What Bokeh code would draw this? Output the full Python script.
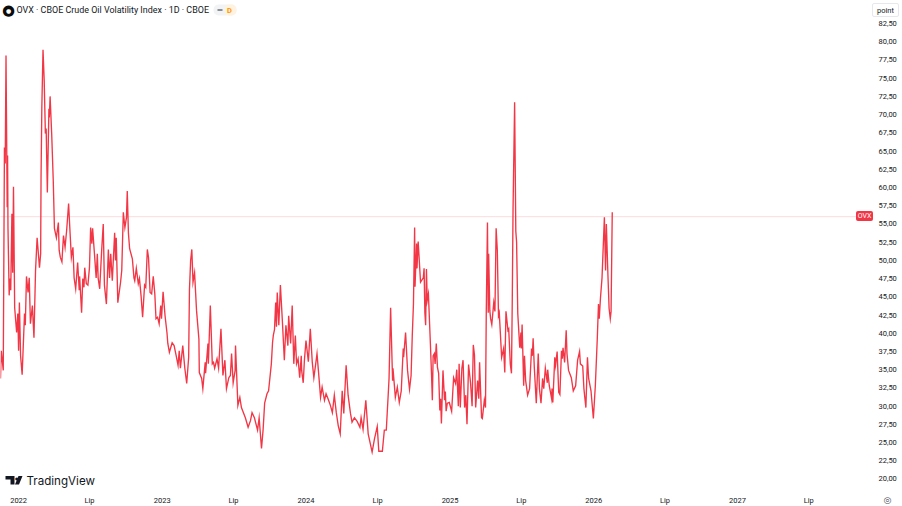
from bokeh.plotting import figure
from bokeh.models import BoxAnnotation, Div, FixedTicker, Label, PolyAnnotation, Range1d
from bokeh.embed import file_html
from bokeh.resources import INLINE

# x = calendar days since 2021-11-17
days_2022 = [0,2,7,10,12,14,17,18,19,22,24,26,29,31,33,36,41,44,46,48,51,55,61,63,66,70,73,76,81,85,89,93,97,99,102,103,105,108,111,114,116,119,123,124,126,130,134,137,142,147,149,152,156,160,164,168,173,176,180,184,187,191,196,200,201,206,209,212,214,218,222,226,229,232,234,238,243,246,248,252,257,261,264,269,274,277,280,284,290,292,294,298,305,308,312,316,320,322,325,328,335,339,341,345,350,353,357,361,366,369,373,376,380,384,388,392,395,399,403,407,409]
ovx_2022 = [33.8,37.6,34.9,65.5,63.3,78.1,57.3,64.4,54.5,45.2,47.5,45.9,56.4,48.3,60.1,43.5,40.1,42.7,37.6,44.2,36.9,34.3,42.7,41.1,47.8,45.6,47.6,41.3,43.8,39.4,48.6,53.1,50.4,49,50.9,61.4,71,78.9,74.7,67.4,68.1,59.3,70.8,69.6,72.5,67.4,61,54.4,53.1,55.2,51.4,50.4,49.8,53.4,51.8,54.1,57.8,54.5,50.4,51.8,47.6,46.1,49.7,45.9,47.8,42.8,47.5,46.3,49,46.8,46.6,49,54.5,52.3,54.4,51.4,47.6,50.9,47.6,46.1,51.4,55,46.6,44,51.5,47.6,50.9,47.2,53.8,50,53.1,44.2,47,48.6,56.6,54.5,55.9,59.5,53.7,51.6,50.2,47.6,47.2,48.9,46.8,47.5,45.2,42.2,46.6,46.3,51.5,50.4,45.6,45.4,47.8,45.4,42,42.2,41.3,43.8,42]

days_2023 = [413,418,423,425,429,436,441,446,451,454,457,463,468,473,478,480,483,486,489,493,498,504,505,511,514,520,521,527,528,533,538,541,544,550,554,560,565,570,574,580,584,587,591,596,597,603,608,612,622,629,635,639,645,653,657,663,667,671,677,681,688,691,693,696,699,701,703,707,711,716,721,725,730,732,737,741,745,749,752,756,760,764,765,769,772]
ovx_2023 = [45.7,42.4,40,38.6,37.4,38.7,38.3,37,35.6,37.6,35.2,38.3,35.3,33.1,36.7,46,50,51.5,47,48.3,43.1,39.2,34.6,33.8,32.4,36,34.5,38.6,35.8,43.8,35.8,36,35.2,36.5,35.2,40.6,34.2,36.3,32.4,33.9,34.2,37.2,33.2,34.9,38.3,30.1,31.2,29.8,28.4,27.1,28,29.1,28.4,26.7,28.4,24.2,26.7,30.4,31.7,32.1,35.8,38.7,39.7,40.5,44.2,40.9,45.6,41.1,46.6,41.7,36.3,41.1,38.3,42.4,38.6,43.8,35.8,39.7,35.8,36.5,33.9,36.9,34.9,33.2,36.3]

days_2024 = [776,782,787,792,796,800,804,808,813,817,823,827,832,838,843,848,853,858,863,868,872,878,883,889,893,899,906,913,916,921,928,934,944,950,957,961,970,975,980,985,987,991,996,997,1003,1008,1013,1018,1023,1024,1029,1034,1039,1043,1046,1049,1052,1053,1057,1058,1061,1067,1074,1076,1078,1080,1082,1084,1087,1092,1095,1097,1099,1102,1104,1107,1110,1113,1116,1118,1120,1124,1128,1130,1132,1135,1140]
ovx_2024 = [39,36.1,40.6,36,33.9,35.5,37.2,34.6,31.2,32.6,30.8,31.7,31,30.1,29.1,31.5,29.1,27.3,26.2,32.1,29,35.6,31.5,29,27.8,28.4,27.9,27.1,28.4,26.8,30.8,26.2,23.7,25.5,27.2,23.8,23.8,26.7,26.7,31.7,33.8,43.5,33.5,35.2,31.2,32.6,30.5,32.1,37.9,36.7,40.1,34.9,32.3,34.2,39.7,44,54.5,46.4,52.3,48.9,52.6,47,47.6,48.9,42.8,41.1,48.8,44.5,45.4,38.6,34.2,30.8,36.9,37.2,35.8,38.6,35.3,34.5,29.4,31,27.6,34.9,30.8,32,29.3,30.4,30.5]

days_2025 = [1146,1151,1156,1159,1163,1165,1168,1172,1175,1179,1182,1185,1189,1194,1198,1201,1204,1207,1212,1215,1217,1222,1224,1229,1232,1234,1237,1239,1240,1243,1245,1248,1253,1256,1259,1262,1265,1267,1273,1278,1281,1284,1289,1291,1295,1298,1300,1302,1306,1309,1311,1314,1319,1322,1323,1325,1329,1331,1334,1339,1344,1349,1351,1353,1356,1361,1366,1369,1373,1377,1380,1384,1389,1390,1394,1400,1401,1403,1408,1410,1414,1418,1421,1425,1427,1429,1433,1437,1439,1443,1450,1455,1461,1466,1471,1473,1479,1482,1485,1487,1491,1494,1500]
ovx_2025 = [29.3,33.9,33.1,35,30,35.8,29.8,35.2,36.3,29.8,31.5,27.5,35.7,33.2,30,38.4,37,29.8,33.5,31,36,28.4,28.3,30.8,29.8,43.1,55.2,42.8,50.9,43.1,42,41.2,44.2,43,54.4,51.4,42.4,42.8,36.7,37.9,34.6,43,40.4,40.6,35.8,34.5,44.5,57.1,71.7,54,52.5,42.7,38,40.1,37.9,41.2,32.8,36.9,33.5,31.5,32.4,37.9,36.9,39.3,35.3,30.4,37.2,32.4,30.4,33.8,32.4,35.2,33.2,35,32.8,31,32.4,30.5,36.7,35.6,37.5,31.9,31.6,37.6,36.5,38,36,40.4,37.2,34.9,33.9,32.1,32.8,36.3,37.5,35.8,35.5,32.4,30.8,29.8,36.7,33.8,32.1]

days_2026 = [1506,1511,1516,1519,1521,1524,1528,1534,1537,1539,1543,1546,1549,1551,1554]
ovx_2026 = [28.3,32.8,39.3,44,42,44.8,47.6,55.9,48.6,55,48,43.4,42,43,56.6]

days = days_2022 + days_2023 + days_2024 + days_2025 + days_2026
ovx = ovx_2022 + ovx_2023 + ovx_2024 + ovx_2025 + ovx_2026

last_price = 56.0
x_tick_days = [46, 226, 411, 592, 776, 958, 1142, 1323, 1507, 1688, 1872, 2053]
x_tick_labels = ["2022", "Lip", "2023", "Lip", "2024", "Lip", "2025", "Lip", "2026", "Lip", "2027", "Lip"]
y_ticks = [20 + 2.5 * i for i in range(26)]
y_tick_labels = [f"{v:.2f}".replace(".", ",") for v in y_ticks]

RED = "#F23645"
TXT = "#131722"
FONT = "Roboto"
FH = 490

p = figure(output_backend="svg", toolbar_location=None, frame_width=870, frame_height=FH,
           x_range=Range1d(0, 2210), y_range=Range1d(18.42, 85.66), y_axis_location="right",
           min_border_left=0, min_border_top=0, min_border_right=32, min_border_bottom=16,
           background_fill_color="white", border_fill_color="white", outline_line_color=None)
p.grid.visible = False

for ax in (p.xaxis[0], p.yaxis[0]):
    ax.axis_line_color = None
    ax.major_tick_line_color = None
    ax.minor_tick_line_color = None
    ax.major_tick_out = 0
    ax.major_tick_in = 0
    ax.minor_tick_out = 0
    ax.minor_tick_in = 0
    ax.major_label_text_font = FONT
    ax.major_label_text_font_size = "7.5px"
    ax.major_label_text_color = TXT
p.xaxis[0].ticker = FixedTicker(ticks=x_tick_days)
p.xaxis[0].major_label_overrides = dict(zip(x_tick_days, x_tick_labels))
p.xaxis[0].major_label_standoff = 5
p.yaxis[0].ticker = FixedTicker(ticks=y_ticks)
p.yaxis[0].major_label_overrides = dict(zip(y_ticks, y_tick_labels))
p.yaxis[0].major_label_standoff = 8

p.line([0, 2172], [last_price, last_price], line_color=RED, line_alpha=0.35, line_width=1, line_dash="1 1")
p.line(days, ovx, line_color=RED, line_width=1.35, line_join="miter")

def box(l, r, t, b, **kw):
    p.add_layout(BoxAnnotation(left=l, right=r, top=FH - t, bottom=FH - b, left_units="screen", right_units="screen",
                               top_units="screen", bottom_units="screen", editable=False, **kw))

def lab(x, y, text, size, color=TXT, align="left", style="normal", font=FONT):
    p.add_layout(Label(x=x, y=FH - y, x_units="screen", y_units="screen", text=text, text_font=font,
                       text_font_size=size, text_color=color, text_align=align, text_baseline="middle",
                       text_font_style=style))

def chip(l, t, w, h, text, size, color=TXT, bg="transparent", border="none", font=FONT):
    return Div(text=text, width=w, height=h, styles={
        "position": "absolute", "left": f"{l}px", "top": f"{t}px", "width": f"{w}px", "height": f"{h}px",
        "margin": "0", "padding": "0", "box-sizing": "border-box", "background": bg, "border": border,
        "border-radius": "2px", "color": color, "font-family": font, "font-size": size,
        "line-height": f"{h}px", "text-align": "center", "white-space": "nowrap"})

# header
lab(16, 9.5, "OVX · CBOE Crude Oil Volatility Index · 1D · CBOE", "8.95px")
box(213, 236, 4, 15, fill_color="#F2F3F5", fill_alpha=1, line_color=None, border_radius=5)
box(224, 236, 4, 15, fill_color="#FFF3E0", fill_alpha=1, line_color=None, border_radius=5)
box(217, 222, 8.5, 10.5, fill_color="#8A8E97", fill_alpha=1, line_color=None)
lab(229, 9.5, "D", "7.5px", color="#FF9800", align="center", style="bold")
lab(8, 9, "●", "15px", color="#0B0B0B", align="center", font="DejaVu Sans")
lab(8, 9.5, "●", "6px", color="white", align="center", font="DejaVu Sans")

# logo
for xs, ys in [([5, 14, 14, 10, 10, 5], [475.5, 475.5, 484, 484, 479, 479]),
               ([22, 18.5, 14.5, 18], [475.5, 484, 484, 475.5])]:
    p.add_layout(PolyAnnotation(xs=xs, ys=[FH - v for v in ys], xs_units="screen", ys_units="screen", fill_color=TXT,
                                fill_alpha=1, line_color=None, editable=False))
lab(16.3, 477.5, "●", "4px", align="center", font="DejaVu Sans")
lab(26, 480, "TradingView", "11.6px", font="Inter")

# price-scale button, last-value tag, settings icon: outside the plot frame
p.elements = [
    chip(872, 3, 27, 14, "point", "7.5px", bg="white", border="1px solid #E6E8EE"),
    chip(856, 211, 17, 10, "OVX", "7px", color="white", bg=RED),
    chip(881, 494, 13, 12, "◎", "9px", color="#4A4E57", font="DejaVu Sans"),
]

open("out.html", "w").write(file_html(p, INLINE))
